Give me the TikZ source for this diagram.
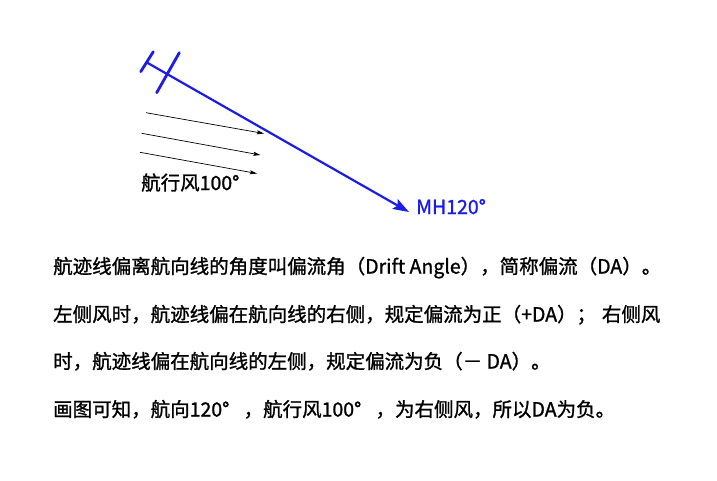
\documentclass[tikz,border=0pt]{standalone}
\usepackage{fontspec}
\setmainfont{Noto Sans CJK SC}[FakeBold=1.2,BoldFont={Noto Sans CJK SC}]
\usetikzlibrary{arrows.meta}
\definecolor{planeblue}{RGB}{28,28,232}
\newcommand{\degsp}{\makebox[1.1em][l]{°}}
\tikzset{
  planebar/.style={draw=planeblue, line width=2.8pt, line cap=round},
  fuselage/.style={draw=planeblue, line width=2.2pt, -{Stealth[length=16pt,width=11pt,inset=3pt]}},
  windarrow/.style={draw=black, line width=0.7pt, -{Stealth[length=7pt,width=4pt,inset=1pt]}},
  bodytext/.style={anchor=base west, inner sep=0pt, font=\fontsize{19.5}{23}\selectfont\bfseries},
  labeltext/.style={anchor=base west, inner sep=0pt, font=\fontsize{19.5}{22}\selectfont\bfseries},
}
\begin{document}
\begin{tikzpicture}[x=1pt,y=-1pt]
\useasboundingbox[fill=white] (0,0) rectangle (717,480);
% plane
\coordinate (tail) at (146,62);
\coordinate (tip) at (409,212);
\coordinate (tailA) at (140.7,71.7);
\coordinate (tailB) at (153.3,51.7);
\coordinate (wingA) at (156.7,92.7);
\coordinate (wingB) at (179.3,52.7);
\draw[planebar] (tailA) -- (tailB);
\draw[planebar] (wingA) -- (wingB);
\draw[fuselage] (tail) -- (tip);
% wind
\coordinate (w1s) at (146,112.7);
\coordinate (w1e) at (264,133.5);
\coordinate (w2s) at (141.7,133.3);
\coordinate (w2e) at (260.5,155);
\coordinate (w3s) at (140,152.3);
\coordinate (w3e) at (257,173.5);
\draw[windarrow] (w1s) -- (w1e);
\draw[windarrow] (w2s) -- (w2e);
\draw[windarrow] (w3s) -- (w3e);
% labels
\node[labeltext] (windlbl) at (141,190) {航行风100°};
\node[labeltext, text=planeblue] (mhlbl) at (416,214) {MH120°};
% paragraph
\node[bodytext] (l1) at (53,273.5) {航迹线偏离航向线的角度叫偏流角（Drift Angle），简称偏流（DA）。};
\node[bodytext] (l2) at (53,321.5) {左侧风时，航迹线偏在航向线的右侧，规定偏流为正（+DA）；\hspace{0.3em}右侧风};
\node[bodytext] (l3) at (53,368.5) {时，航迹线偏在航向线的左侧，规定偏流为负（－ DA）。};
\node[bodytext] (l4) at (53,416.5) {画图可知，航向120\degsp，航行风100\degsp，为右侧风，所以DA为负。};
\end{tikzpicture}
\end{document}
